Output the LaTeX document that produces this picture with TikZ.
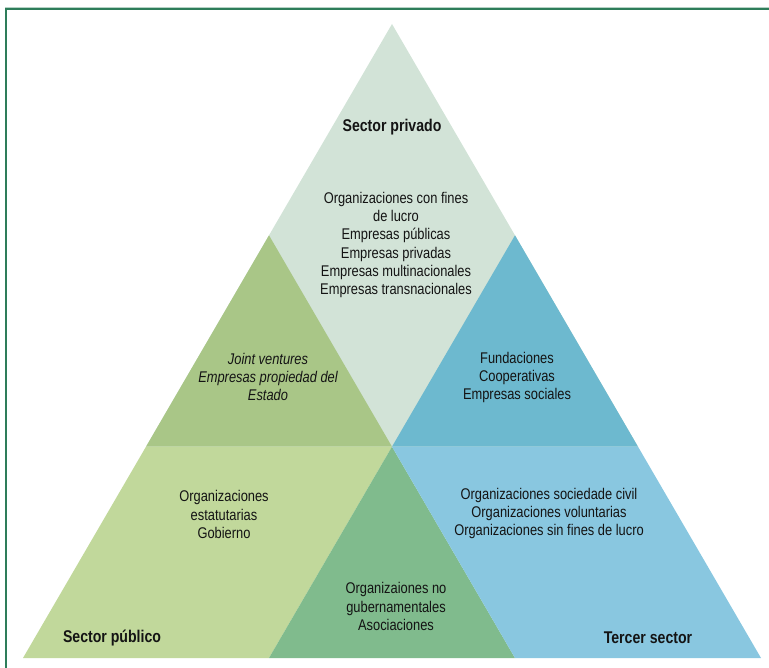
\documentclass[tikz,border=0pt]{standalone}
\usepackage{fontspec}
\setmainfont{Liberation Sans}[FakeStretch=0.83]
\definecolor{frameGreen}{RGB}{46,125,90}
\definecolor{cTop}{RGB}{210,227,215}
\definecolor{cGreen}{RGB}{169,198,135}
\definecolor{cBlue}{RGB}{109,185,207}
\definecolor{cBotLeft}{RGB}{193,216,155}
\definecolor{cMid}{RGB}{128,187,141}
\definecolor{cBotRight}{RGB}{137,199,224}
\definecolor{txt}{RGB}{20,20,20}
\tikzset{
  bodytext/.style={align=center, inner sep=0pt, text=txt, font=\fontsize{15.5}{18.2}\selectfont},
  titletext/.style={align=center, inner sep=0pt, text=txt, font=\fontsize{17}{19}\selectfont\bfseries},
  region/.style={draw=none}
}
\begin{document}
\begin{tikzpicture}[x=1pt,y=-1pt]
\useasboundingbox (0,0) rectangle (769,668);
% grid coordinates
\coordinate (A) at (392,24);
\coordinate (L1) at (269,235.33);
\coordinate (R1) at (515,235.33);
\coordinate (L2) at (146,446.67);
\coordinate (M2) at (392,446.67);
\coordinate (R2) at (638,446.67);
\coordinate (B0) at (23,658);
\coordinate (B1) at (269,658);
\coordinate (B2) at (515,658);
\coordinate (B3) at (761,658);
% frame
\coordinate (F0) at (6,668);
\coordinate (F1) at (6,9);
\coordinate (F2) at (769,9);
\draw[frameGreen!35, line width=1pt] (5,7.8) -- (769,7.8);
\draw[frameGreen, line width=1.6pt] (F0) -- (F1) -- (F2);
% regions
\fill[cTop] (A) -- (L2) -- (R2) -- cycle;
\fill[cGreen] (L1) -- (L2) -- (M2) -- cycle;
\fill[cBlue] (R1) -- (M2) -- (R2) -- cycle;
\fill[cBotLeft] (L2) -- (B0) -- (B1) -- (M2) -- cycle;
\fill[cMid] (M2) -- (B1) -- (B2) -- cycle;
\fill[cBotRight] (M2) -- (B2) -- (B3) -- (R2) -- cycle;
% texts
\node[titletext] (tpriv) at (392,127) {Sector privado};
\node[titletext] (tpub) at (112,638) {Sector público};
\node[titletext] (tter) at (648,638) {Tercer sector};
\node[bodytext] (priv) at (396,245) {Organizaciones con fines\\de lucro\\Empresas públicas\\Empresas privadas\\Empresas multinacionales\\Empresas transnacionales};
\node[bodytext, font=\fontsize{15.5}{18.2}\selectfont\itshape] (joint) at (268,377) {Joint ventures\\Empresas propiedad del\\Estado};
\node[bodytext] (fund) at (517,377.5) {Fundaciones\\Cooperativas\\Empresas sociales};
\node[bodytext] (estat) at (224,514.5) {Organizaciones\\estatutarias\\Gobierno};
\node[bodytext] (civil) at (549,513.5) {Organizaciones sociedade civil\\Organizaciones voluntarias\\Organizaciones sin fines de lucro};
\node[bodytext] (ong) at (396,606.5) {Organizaiones no\\gubernamentales\\Asociaciones};
\end{tikzpicture}
\end{document}
